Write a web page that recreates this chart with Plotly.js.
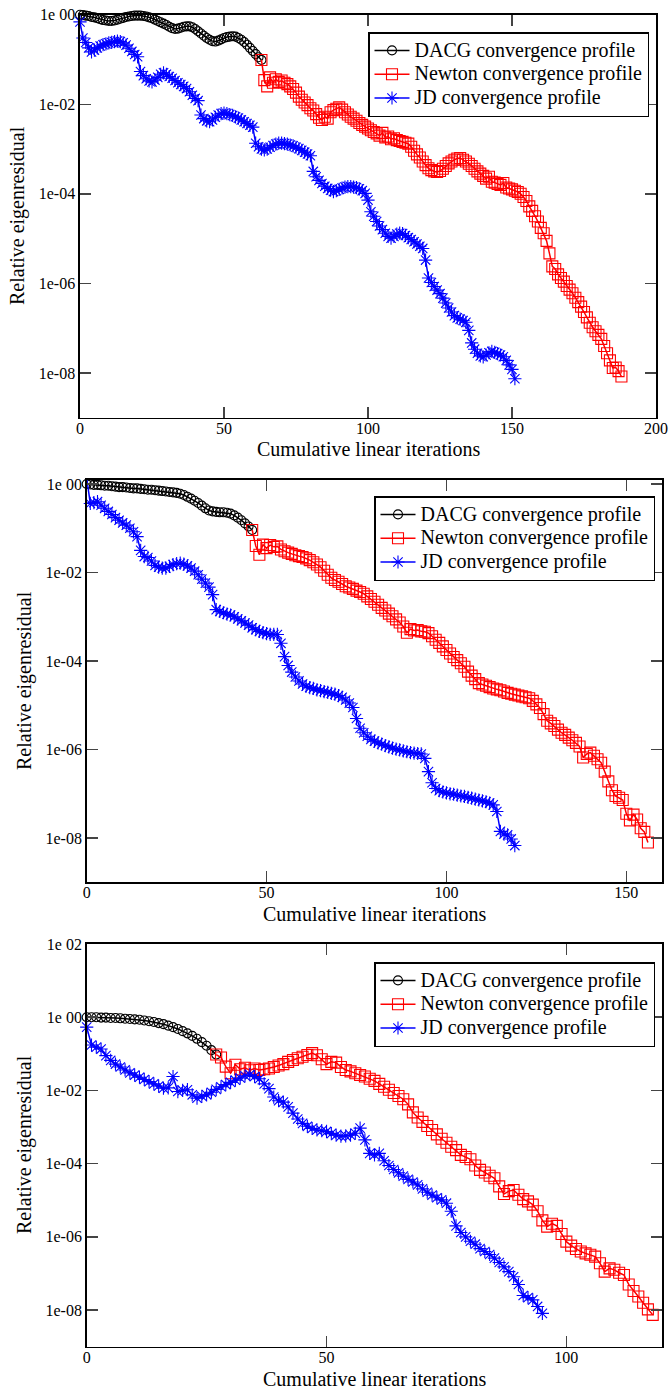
<!DOCTYPE html>
<html>
<head>
<meta charset="utf-8">
<script src="https://cdn.plot.ly/plotly-3.0.1.min.js"></script>
<style>html,body{margin:0;padding:0;background:#fff;}#chart{width:671px;height:1390px;}</style>
</head>
<body>
<div id="chart"></div>
<script>
// ---------------- DATA (log10 of relative eigenresidual, one value per linear iteration) ----------------
const seriesNames = ["DACG convergence profile", "Newton convergence profile", "JD convergence profile"];

// Panel 1
const dacg1Start = 0;
const dacg1Log = [0.00,-0.01,-0.02,-0.03,-0.05,-0.06,-0.08,-0.10,-0.12,-0.13,-0.14,-0.14,-0.13,-0.11,-0.09,-0.07,-0.05,-0.04,-0.03,-0.02,
 -0.02,-0.02,-0.03,-0.04,-0.06,-0.08,-0.11,-0.14,-0.17,-0.20,-0.23,-0.27,-0.30,-0.32,-0.31,-0.29,-0.27,-0.26,-0.26,-0.28,
 -0.32,-0.37,-0.42,-0.47,-0.52,-0.56,-0.59,-0.60,-0.58,-0.55,-0.52,-0.50,-0.49,-0.48,-0.49,-0.52,-0.56,-0.61,-0.67,-0.74,
 -0.81,-0.88,-0.95,-1.01];
const newton1Start = 63;
const newton1Log = [-1.01,-1.46,-1.60,-1.40,-1.52,-1.44,-1.50,-1.47,-1.52,-1.55,-1.60,-1.66,-1.74,-1.83,-1.90,-1.96,-2.02,-2.09,-2.14,-2.22,
 -2.30,-2.35,-2.28,-2.32,-2.18,-2.13,-2.10,-2.07,-2.12,-2.18,-2.23,-2.28,-2.32,-2.37,-2.42,-2.46,-2.50,-2.54,-2.58,-2.62,
 -2.65,-2.70,-2.64,-2.74,-2.72,-2.78,-2.76,-2.80,-2.82,-2.84,-2.86,-2.88,-2.95,-3.04,-3.12,-3.19,-3.28,-3.36,-3.43,-3.47,
 -3.50,-3.51,-3.49,-3.44,-3.38,-3.32,-3.28,-3.24,-3.21,-3.20,-3.24,-3.28,-3.33,-3.38,-3.44,-3.50,-3.55,-3.60,-3.66,-3.62,
 -3.73,-3.75,-3.78,-3.80,-3.76,-3.86,-3.88,-3.90,-3.93,-3.96,-4.00,-4.07,-4.16,-4.28,-4.38,-4.50,-4.62,-4.76,-4.88,-5.05,
 -5.33,-5.62,-5.68,-5.80,-5.88,-5.96,-6.06,-6.14,-6.22,-6.32,-6.42,-6.52,-6.64,-6.76,-6.88,-6.98,-7.07,-7.15,-7.24,-7.40,
 -7.56,-7.72,-7.89,-7.88,-7.96,-8.08];
const jd1Start = 0;
const jd1Log = [-0.16,-0.52,-0.62,-0.74,-0.83,-0.79,-0.74,-0.70,-0.67,-0.65,-0.63,-0.62,-0.60,-0.59,-0.60,-0.63,-0.68,-0.75,-0.82,-0.89,
 -0.94,-1.27,-1.36,-1.43,-1.48,-1.50,-1.46,-1.40,-1.33,-1.30,-1.33,-1.38,-1.42,-1.47,-1.52,-1.56,-1.60,-1.65,-1.72,-1.80,
 -1.87,-1.92,-2.24,-2.32,-2.37,-2.39,-2.35,-2.29,-2.24,-2.21,-2.20,-2.21,-2.23,-2.25,-2.28,-2.31,-2.35,-2.39,-2.43,-2.47,
 -2.51,-2.87,-2.95,-3.00,-3.02,-3.00,-2.96,-2.92,-2.89,-2.87,-2.87,-2.88,-2.89,-2.91,-2.93,-2.96,-2.99,-3.03,-3.07,-3.11,
 -3.15,-3.50,-3.62,-3.70,-3.77,-3.83,-3.88,-3.92,-3.95,-3.93,-3.90,-3.87,-3.85,-3.84,-3.84,-3.85,-3.86,-3.89,-3.93,-3.99,
 -4.14,-4.40,-4.50,-4.62,-4.72,-4.80,-4.88,-4.95,-4.99,-4.95,-4.90,-4.88,-4.89,-4.93,-4.98,-5.02,-5.07,-5.12,-5.17,-5.22,
 -5.48,-5.88,-5.98,-6.07,-6.15,-6.23,-6.33,-6.44,-6.55,-6.64,-6.72,-6.77,-6.80,-6.83,-6.87,-7.05,-7.33,-7.47,-7.56,-7.62,
 -7.64,-7.60,-7.55,-7.52,-7.54,-7.57,-7.60,-7.64,-7.72,-7.82,-7.92,-8.13];

// Panel 2
const dacg2Start = 0;
const dacg2Log = [0.00,-0.01,-0.02,-0.02,-0.03,-0.04,-0.04,-0.05,-0.06,-0.07,-0.07,-0.08,-0.09,-0.10,-0.10,-0.11,-0.12,-0.13,-0.13,-0.14,
 -0.15,-0.16,-0.17,-0.18,-0.19,-0.20,-0.22,-0.25,-0.29,-0.33,-0.38,-0.43,-0.49,-0.55,-0.60,-0.62,-0.63,-0.64,-0.64,-0.65,
 -0.67,-0.71,-0.76,-0.82,-0.89,-0.96,-1.04];
const newton2Start = 46;
const newton2Log = [-1.04,-1.40,-1.60,-1.37,-1.45,-1.38,-1.42,-1.41,-1.48,-1.52,-1.55,-1.58,-1.61,-1.63,-1.65,-1.68,-1.72,-1.77,-1.82,-1.88,
 -1.96,-2.05,-2.12,-2.17,-2.21,-2.26,-2.31,-2.34,-2.37,-2.41,-2.44,-2.48,-2.54,-2.60,-2.66,-2.73,-2.80,-2.86,-2.93,-2.99,
 -3.06,-3.13,-3.22,-3.36,-3.28,-3.31,-3.30,-3.33,-3.34,-3.37,-3.44,-3.52,-3.59,-3.67,-3.75,-3.83,-3.91,-3.98,-4.05,-4.13,
 -4.24,-4.33,-4.41,-4.50,-4.53,-4.56,-4.59,-4.62,-4.64,-4.66,-4.69,-4.72,-4.74,-4.76,-4.78,-4.80,-4.82,-4.84,-4.90,-4.98,
 -5.06,-5.20,-5.35,-5.41,-5.47,-5.55,-5.62,-5.67,-5.73,-5.79,-5.85,-5.93,-6.18,-6.10,-6.07,-6.14,-6.22,-6.30,-6.50,-6.72,
 -6.92,-7.05,-7.09,-7.14,-7.45,-7.60,-7.47,-7.58,-7.78,-7.86,-8.10];
const jd2Start = 0;
const jd2Log = [0.13,-0.44,-0.42,-0.40,-0.48,-0.55,-0.62,-0.69,-0.76,-0.82,-0.88,-0.93,-1.00,-1.08,-1.19,-1.50,-1.64,-1.66,-1.74,-1.84,
 -1.88,-1.90,-1.90,-1.86,-1.82,-1.80,-1.79,-1.81,-1.85,-1.90,-1.97,-2.05,-2.15,-2.24,-2.33,-2.50,-2.84,-2.88,-2.91,-2.94,
 -2.96,-3.00,-3.05,-3.09,-3.14,-3.19,-3.25,-3.29,-3.33,-3.36,-3.38,-3.40,-3.40,-3.40,-3.60,-3.90,-4.10,-4.25,-4.36,-4.45,
 -4.52,-4.57,-4.60,-4.62,-4.65,-4.67,-4.69,-4.71,-4.73,-4.75,-4.78,-4.82,-4.88,-4.95,-5.05,-5.30,-5.52,-5.62,-5.70,-5.77,
 -5.81,-5.85,-5.88,-5.91,-5.94,-5.97,-5.99,-6.01,-6.03,-6.05,-6.07,-6.08,-6.09,-6.10,-6.20,-6.50,-6.75,-6.88,-6.93,-6.96,
 -6.98,-7.00,-7.01,-7.03,-7.05,-7.06,-7.08,-7.10,-7.12,-7.14,-7.16,-7.18,-7.21,-7.25,-7.40,-7.85,-7.91,-7.93,-8.02,-8.17];

// Panel 3
const dacg3Start = 0;
const dacg3Log = [0.00,0.00,0.00,-0.01,-0.01,-0.02,-0.02,-0.03,-0.04,-0.05,-0.06,-0.07,-0.09,-0.11,-0.13,-0.16,-0.19,-0.23,-0.27,-0.32,
 -0.38,-0.44,-0.51,-0.59,-0.68,-0.78,-0.90,-1.02];
const newton3Start = 27;
const newton3Log = [-1.02,-1.10,-1.35,-1.53,-1.30,-1.42,-1.38,-1.45,-1.40,-1.44,-1.42,-1.40,-1.36,-1.32,-1.28,-1.22,-1.17,-1.12,-1.08,-1.03,
 -0.98,-1.04,-1.15,-1.28,-1.22,-1.24,-1.36,-1.44,-1.48,-1.53,-1.58,-1.62,-1.68,-1.74,-1.82,-1.90,-1.98,-2.07,-2.15,-2.24,
 -2.38,-2.60,-2.74,-2.86,-2.97,-3.08,-3.20,-3.32,-3.43,-3.54,-3.63,-3.76,-3.82,-3.88,-4.05,-4.17,-4.24,-4.33,-4.40,-4.62,
 -4.83,-4.75,-4.72,-4.85,-4.97,-5.03,-5.12,-5.30,-5.55,-5.72,-5.64,-5.70,-5.92,-6.13,-6.24,-6.33,-6.40,-6.45,-6.49,-6.54,
 -6.72,-6.95,-6.86,-6.90,-6.98,-7.04,-7.30,-7.48,-7.63,-7.80,-7.98,-8.13];
const jd3Start = 0;
const jd3Log = [-0.27,-0.76,-0.82,-0.87,-1.05,-1.18,-1.28,-1.36,-1.44,-1.52,-1.58,-1.64,-1.70,-1.76,-1.82,-1.88,-1.94,-1.93,-1.62,-2.03,
 -2.00,-1.98,-2.12,-2.21,-2.16,-2.12,-2.05,-1.97,-1.90,-1.84,-1.78,-1.72,-1.66,-1.60,-1.57,-1.62,-1.68,-1.82,-1.95,-2.18,
 -2.28,-2.32,-2.45,-2.62,-2.78,-2.90,-2.98,-3.04,-3.08,-3.10,-3.12,-3.18,-3.22,-3.25,-3.24,-3.22,-3.17,-3.03,-3.35,-3.72,
 -3.76,-3.72,-3.92,-4.05,-4.16,-4.25,-4.34,-4.43,-4.50,-4.58,-4.69,-4.78,-4.86,-4.93,-4.99,-5.08,-5.30,-5.70,-5.88,-6.00,
 -6.12,-6.20,-6.32,-6.40,-6.48,-6.58,-6.70,-6.82,-6.95,-7.09,-7.30,-7.60,-7.66,-7.72,-7.90,-8.09];

// Axis tick labels
const xTicks1 = [0, 50, 100, 150, 200];
const xTicks2 = [0, 50, 100, 150];
const xTicks3 = [0, 50, 100];
const yTickExp12 = [0, -2, -4, -6, -8];
const yTickText12 = ["1e 00", "1e-02", "1e-04", "1e-06", "1e-08"];
const yTickExp3 = [2, 0, -2, -4, -6, -8];
const yTickText3 = ["1e 02", "1e 00", "1e-02", "1e-04", "1e-06", "1e-08"];
const xTitle = "Cumulative linear iterations";
const yTitle = "Relative eigenresidual";

// ---------------- BUILD ----------------
const W = 671, H = 1390;
const FONT = "'Liberation Serif', 'Times New Roman', serif";
function iters(start, arr) { return arr.map((_, i) => start + i); }
function vals(arr) { return arr.map(e => Math.pow(10, e)); }

const styles = [
  {color: "#000000", symbol: "circle-open", size: 9},
  {color: "#ff0000", symbol: "square-open", size: 11},
  {color: "#0000ff", symbol: "asterisk-open", size: 11}
];

function trace(k, start, arr, xa, ya, leg) {
  const s = styles[k];
  return {
    type: "scatter", mode: "lines+markers",
    x: iters(start, arr), y: vals(arr),
    xaxis: xa, yaxis: ya, legend: leg,
    name: '<span style="font-size:20px">' + seriesNames[k] + '</span>', showlegend: true,
    line: {color: s.color, width: 1.5},
    marker: {symbol: s.symbol, size: s.size, color: s.color, line: {color: s.color, width: 1.1}},
    cliponaxis: false
  };
}

const data = [
  trace(0, dacg1Start, dacg1Log, "x", "y", "legend"),
  trace(1, newton1Start, newton1Log, "x", "y", "legend"),
  trace(2, jd1Start, jd1Log, "x", "y", "legend"),
  trace(0, dacg2Start, dacg2Log, "x2", "y2", "legend2"),
  trace(1, newton2Start, newton2Log, "x2", "y2", "legend2"),
  trace(2, jd2Start, jd2Log, "x2", "y2", "legend2"),
  trace(0, dacg3Start, dacg3Log, "x3", "y3", "legend3"),
  trace(1, newton3Start, newton3Log, "x3", "y3", "legend3"),
  trace(2, jd3Start, jd3Log, "x3", "y3", "legend3")
];

const axBase = {
  showline: true, linecolor: "#000", linewidth: 1.6, mirror: "ticks",
  ticks: "inside", ticklen: 11, tickwidth: 1.5, tickcolor: "#444",
  showgrid: false, zeroline: false, fixedrange: true,
  tickfont: {family: FONT, size: 16, color: "#000"}
};
function xAxis(domPx, range, ticks, anchor) {
  return Object.assign({}, axBase, {domain: [domPx[0] / W, domPx[1] / W], range: range,
    tickmode: "array", tickvals: ticks, ticktext: ticks.map(String), anchor: anchor,
    ticklabelstandoff: -5});
}
function yAxis(domPx, range, exps, texts, anchor) {
  return Object.assign({}, axBase, {type: "log", domain: [1 - domPx[1] / H, 1 - domPx[0] / H], range: range,
    tickmode: "array", tickvals: exps.map(e => Math.pow(10, e)), ticktext: texts, anchor: anchor});
}
function legendAt(leftPx, topPx) {
  return {x: leftPx / W, y: 1 - topPx / H, xanchor: "left", yanchor: "top",
    bordercolor: "#000", borderwidth: 1.5, bgcolor: "#fff", itemwidth: 35,
    font: {family: FONT, size: 16, color: "#000"}, tracegroupgap: 0};
}
function ann(text, xPx, yPx, angle) {
  return {text: text, xref: "paper", yref: "paper", x: xPx / W, y: 1 - yPx / H,
    xanchor: "center", yanchor: "middle", showarrow: false, textangle: angle || 0,
    font: {family: FONT, size: 20, color: "#000"}};
}

const layout = {
  width: W, height: H, margin: {l: 0, r: 0, t: 0, b: 0},
  paper_bgcolor: "#fff", plot_bgcolor: "#fff",
  font: {family: FONT, color: "#000"},
  xaxis: xAxis([80, 656], [0, 200], xTicks1, "y"),
  yaxis: yAxis([14.7, 417.7], [-9, 0], yTickExp12, yTickText12, "x"),
  xaxis2: xAxis([86.7, 662.3], [0, 160], xTicks2, "y2"),
  yaxis2: yAxis([480, 882.3], [-9, 0.09], yTickExp12, yTickText12, "x2"),
  xaxis3: xAxis([86.7, 662.3], [0, 120], xTicks3, "y3"),
  yaxis3: yAxis([944, 1346.7], [-9, 2], yTickExp3, yTickText3, "x3"),
  legend: legendAt(368, 32),
  legend2: legendAt(374, 496),
  legend3: legendAt(374, 962),
  annotations: [
    ann(xTitle, 368, 449), ann(yTitle, 18, 216, -90),
    ann(xTitle, 374.5, 914), ann(yTitle, 24, 681, -90),
    ann(xTitle, 374.5, 1379), ann(yTitle, 24, 1145, -90)
  ],
  showlegend: true
};

Plotly.newPlot("chart", data, layout, {displayModeBar: false, staticPlot: true});
</script>
</body>
</html>
